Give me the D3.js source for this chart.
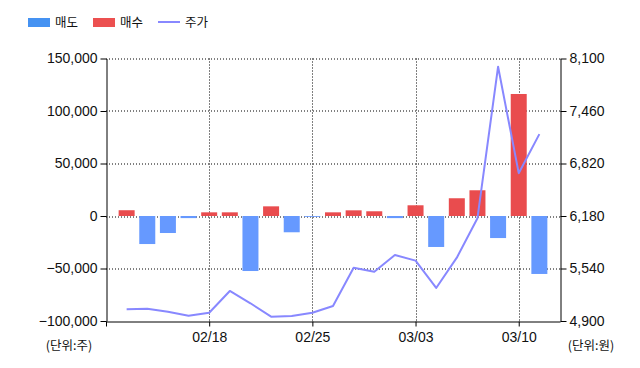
<!DOCTYPE html>
<html>
<head>
<meta charset="utf-8">
<script src="https://cdn.jsdelivr.net/npm/d3@7"></script>
<style>
  body { margin: 0; background: #fff; }
  text { font-family: "Liberation Sans", Arial, sans-serif; fill: #111; }
  .kr { font-family: "Noto Sans CJK KR", sans-serif; }
</style>
</head>
<body>
<svg></svg>
<script>
// trading days, one slot each
const dates = ["02/12", "02/13", "02/14", "02/17", "02/18", "02/19", "02/20", "02/21", "02/24", "02/25",
  "02/26", "02/27", "02/28", "02/29", "03/03", "03/04", "03/05", "03/06", "03/07", "03/10", "03/11"];
// 매도 (negative) and 매수 (positive) volumes
const sellVol = [0, -26700, -16200, -2000, 0, 0, -52400, 0, -15500, -800,
  0, 0, 0, -2000, 0, -29500, 0, 0, -21000, 0, -55200];
const buyVol = [5500, 0, 0, 0, 3500, 3500, 0, 9200, 0, 0,
  3500, 5400, 4500, 0, 10200, 0, 16900, 24500, 0, 116200, 0];
// 주가
const price = [5043, 5050, 5012, 4965, 5001, 5266, 5116, 4953, 4961, 5001,
  5083, 5550, 5501, 5705, 5636, 5303, 5672, 6153, 8000, 6702, 7178];

const volTicks = [-100000, -50000, 0, 50000, 100000, 150000];
const priceTicks = [4900, 5540, 6180, 6820, 7460, 8100];
const dateTicks = ["02/18", "02/25", "03/03", "03/10"];

const svgWidth = 640, svgHeight = 368;
const margin = {top: 58.5, left: 106, right: 80, bottom: 47};
const width = svgWidth - margin.left - margin.right;
const height = svgHeight - margin.top - margin.bottom;

const svg = d3.select("svg")
  .attr("width", svgWidth)
  .attr("height", svgHeight);

const x = d3.scalePoint()
  .domain(dates)
  .range([0, width])
  .padding(1);

const yVol = d3.scaleLinear()
  .domain([-100000, 150000])
  .range([height, 0]);

const yPrice = d3.scaleLinear()
  .domain([4900, 8100])
  .range([height, 0]);

const g = svg.append("g")
  .attr("transform", `translate(${margin.left},${margin.top})`);

// dotted grid
g.append("g")
  .selectAll("line")
  .data(volTicks.slice(1))
  .join("line")
  .attr("x1", 0).attr("x2", width)
  .attr("y1", d => Math.round(yVol(d)) + 0.5)
  .attr("y2", d => Math.round(yVol(d)) + 0.5)
  .attr("stroke", "#000")
  .attr("stroke-dasharray", "1,2");

g.append("g")
  .selectAll("line")
  .data(dateTicks)
  .join("line")
  .attr("x1", d => Math.round(x(d)) + 0.5)
  .attr("x2", d => Math.round(x(d)) + 0.5)
  .attr("y1", 0).attr("y2", height)
  .attr("stroke", "#000")
  .attr("stroke-dasharray", "1,2");

// bars
const barW = 16;
g.append("g")
  .selectAll("rect")
  .data(dates.map((d, i) => ({d, v: sellVol[i]})).filter(d => d.v !== 0))
  .join("rect")
  .attr("x", d => x(d.d) - barW / 2)
  .attr("width", barW)
  .attr("y", yVol(0))
  .attr("height", d => yVol(d.v) - yVol(0))
  .attr("fill", "#6699ff");

g.append("g")
  .selectAll("rect")
  .data(dates.map((d, i) => ({d, v: buyVol[i]})).filter(d => d.v !== 0))
  .join("rect")
  .attr("x", d => x(d.d) - barW / 2)
  .attr("width", barW)
  .attr("y", d => yVol(d.v))
  .attr("height", d => yVol(0) - yVol(d.v))
  .attr("fill", "#e94c4e");

// price line
const line = d3.line()
  .x((d, i) => x(dates[i]))
  .y(d => yPrice(d));

g.append("path")
  .datum(price)
  .attr("fill", "none")
  .attr("stroke", "#8888ff")
  .attr("stroke-width", 2)
  .attr("stroke-linejoin", "round")
  .attr("d", line);

// axes
const leftAxis = g.append("g")
  .attr("transform", "translate(0.5,0)")
  .call(d3.axisLeft(yVol).tickValues(volTicks).tickFormat(d3.format(","))
    .tickSize(6).tickPadding(3).tickSizeOuter(0));

const rightAxis = g.append("g")
  .attr("transform", `translate(${width + 0.5},0)`)
  .call(d3.axisRight(yPrice).tickValues(priceTicks).tickFormat(d3.format(","))
    .tickSize(6).tickPadding(3).tickSizeOuter(0));

const bottomAxis = g.append("g")
  .attr("transform", `translate(0,${height + 0.5})`)
  .call(d3.axisBottom(x).tickValues(dateTicks)
    .tickSize(5).tickPadding(6).tickSizeOuter(0));

bottomAxis.append("line")
  .attr("x1", 0.5).attr("x2", 0.5)
  .attr("y1", 0).attr("y2", 5)
  .attr("stroke", "#000");

[leftAxis, rightAxis, bottomAxis].forEach(a => {
  a.selectAll("path, line").attr("stroke", "#000");
  a.selectAll("text").attr("font-size", 14).attr("fill", "#111")
    .attr("font-family", "'Liberation Sans', Arial, sans-serif");
});

// unit labels
svg.append("text")
  .attr("class", "kr")
  .attr("x", 69).attr("y", 350)
  .attr("text-anchor", "middle")
  .attr("font-size", 12.5)
  .text("(단위:주)");

svg.append("text")
  .attr("class", "kr")
  .attr("x", 591).attr("y", 350)
  .attr("text-anchor", "middle")
  .attr("font-size", 12.5)
  .text("(단위:원)");

// legend
const legend = svg.append("g");
const items = [
  {label: "매도", color: "#4592f2", type: "rect", x: 28},
  {label: "매수", color: "#ec5050", type: "rect", x: 93},
  {label: "주가", color: "#8888ff", type: "line", x: 158}
];
items.forEach(it => {
  if (it.type === "rect") {
    legend.append("rect")
      .attr("x", it.x).attr("y", 18)
      .attr("width", 22).attr("height", 9)
      .attr("fill", it.color);
  } else {
    legend.append("line")
      .attr("x1", it.x).attr("x2", it.x + 22)
      .attr("y1", 22).attr("y2", 22)
      .attr("stroke", it.color)
      .attr("stroke-width", 2);
  }
  legend.append("text")
    .attr("class", "kr")
    .attr("x", it.x + 27).attr("y", 27)
    .attr("font-size", 12.5)
    .text(it.label);
});
</script>
</body>
</html>
